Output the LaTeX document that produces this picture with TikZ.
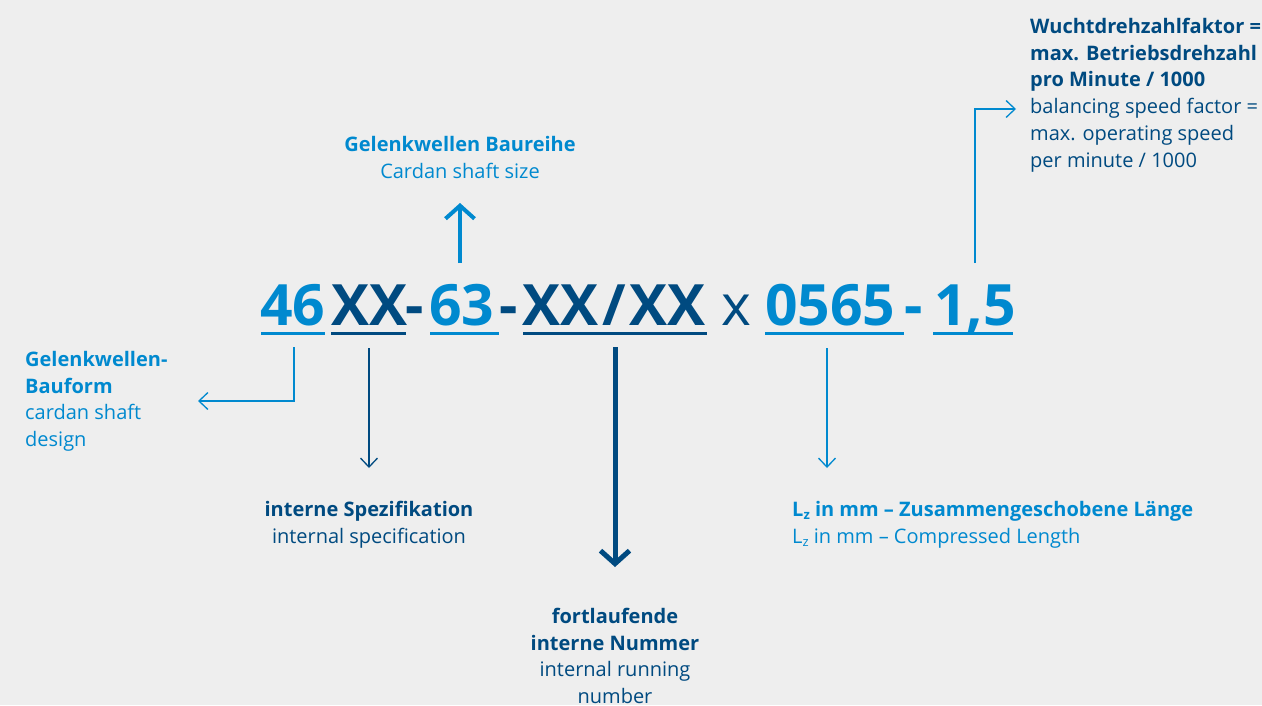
\documentclass[tikz,border=0pt]{standalone}
\usepackage{fontspec}
\setmainfont{Open Sans}
\usetikzlibrary{arrows.meta}
\definecolor{lb}{HTML}{0089CF}
\definecolor{db}{HTML}{004A80}
\definecolor{bgc}{HTML}{EEEEEE}
\newcommand\labfont{\fontsize{20}{26.7}\selectfont}
\newcommand\codefont{\fontsize{57}{60}\selectfont\bfseries}
\newcommand\codereg{\fontsize{57}{60}\selectfont}
\begin{document}
\begin{tikzpicture}[x=1pt,y=-1pt,
  code/.style={font=\codefont,inner sep=0pt,anchor=base west},
  codex/.style={font=\codereg,inner sep=0pt,anchor=base west},
  lbl/.style={font=\labfont,inner sep=0pt},
  ul/.style={line width=3pt},
  thinarrow/.style={line width=1.3pt,-{Straight Barb[length=9pt,width=17pt]}},
  thickarrow/.style={line width=4pt,-{Straight Barb[length=13pt,width=29pt]}},
  thickerarrow/.style={line width=5pt,-{Straight Barb[length=13pt,width=29pt]}}]
\fill[bgc] (0,0) rectangle (1262,705);
\useasboundingbox (0,0) rectangle (1262,705);

% code line
\node[code,text=lb] (n46) at (260,325) {46};
\node[code,text=db] (nxx) at (331,325) {XX};
\node[code,text=db] (h1) at (405,325) {-};
\node[code,text=lb] (n63) at (429,325) {63};
\node[code,text=db] (h2) at (499,325) {-};
\node[code,text=db] (nxxxx) at (522,325) {XX\kern4pt/\kern4pt XX};
\node[codex,text=db] (times) at (721,325) {x};
\node[code,text=lb] (n0565) at (765,325) {0565};
\node[code,text=lb] (h3) at (904,325) {-};
\node[code,text=lb] (n15) at (934,325) {1,5};

% underlines
\draw[ul,lb] (261,333.5) -- (325,333.5);
\draw[ul,db] (331,333.5) -- (406,333.5);
\draw[ul,lb] (430,333.5) -- (499,333.5);
\draw[ul,db] (523,333.5) -- (707,333.5);
\draw[ul,lb] (765,333.5) -- (904,333.5);
\draw[ul,lb] (933,333.5) -- (1013,333.5);

% labels
\node[lbl,text=db,anchor=north west,align=left] (wf) at (1030,18)
  {{\bfseries Wuchtdrehzahlfaktor =}\\{\bfseries max. Betriebsdrehzahl}\\{\bfseries pro Minute / 1000}\\balancing speed factor =\\max. operating speed\\per minute / 1000};
\node[lbl,text=lb,anchor=north,align=center] (gb) at (460,136)
  {{\bfseries Gelenkwellen Baureihe}\\Cardan shaft size};
\node[lbl,text=lb,anchor=north west,align=left] (gbf) at (25,351)
  {{\bfseries Gelenkwellen-}\\{\bfseries Bauform}\\cardan shaft\\design};
\node[lbl,text=db,anchor=north,align=center] (is) at (369,501)
  {{\bfseries interne Spezifikation}\\internal specification};
\node[lbl,text=db,anchor=north,align=center] (fn) at (615,608)
  {{\bfseries fortlaufende}\\{\bfseries interne Nummer}\\internal running\\number};
\node[lbl,text=lb,anchor=north west,align=left] (lz) at (792,501)
  {{\bfseries L\raisebox{-3pt}{\fontsize{13}{14}\selectfont z} in mm – Zusammengeschobene Länge}\\L\raisebox{-3pt}{\fontsize{13}{14}\selectfont z} in mm – Compressed Length};

% connector coordinates
\coordinate (s46) at (294,347);
\coordinate (e46) at (198,401);
\coordinate (sxx) at (369,348);
\coordinate (exx) at (369,468);
\coordinate (s63) at (460,263);
\coordinate (e63) at (460,203);
\coordinate (sxxxx) at (615,347);
\coordinate (exxxx) at (615,567);
\coordinate (s0565) at (827,348);
\coordinate (e0565) at (827,468);
\coordinate (s15) at (975,263);
\coordinate (e15) at (1016,109);

\draw[thinarrow,lb] (s46) |- (e46);
\draw[thinarrow,db] (sxx) -- (exx);
\draw[thickarrow,lb] (s63) -- (e63);
\draw[thickerarrow,db] (sxxxx) -- (exxxx);
\draw[thinarrow,lb] (s0565) -- (e0565);
\draw[thinarrow,lb] (s15) |- (e15);
\end{tikzpicture}
\end{document}
